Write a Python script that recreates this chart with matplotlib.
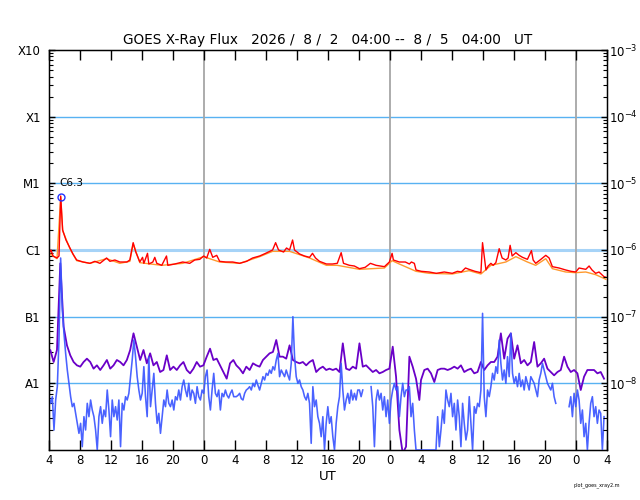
import numpy as np
import matplotlib
matplotlib.use("Agg")
import matplotlib.pyplot as plt
from matplotlib.ticker import LogLocator, NullFormatter

# ---------------- data ----------------
title_text = "GOES X-Ray Flux   2026 /  8 /  2   04:00 --  8 /  5   04:00   UT"
hour_ticks = list(range(0, 73, 4))          # hours since 2026-08-02 04:00 UT
hour_labels = ["4", "8", "12", "16", "20", "0", "4", "8", "12", "16", "20",
               "0", "4", "8", "12", "16", "20", "0", "4"]
day_boundaries = [20, 44, 68]
class_levels = [1e-8, 1e-7, 1e-6, 1e-5, 1e-4, 1e-3]
class_labels = ["A1", "B1", "C1", "M1", "X1", "X10"]
right_levels = [1e-3, 1e-4, 1e-5, 1e-6, 1e-7, 1e-8]
right_labels = [r"$10^{-3}$", r"$10^{-4}$", r"$10^{-5}$", r"$10^{-6}$",
                r"$10^{-7}$", r"$10^{-8}$"]
flare_time = 1.51
flare_label = "C6.3"
flare_log = -5.20

# long channel (0.1-0.8 nm), primary: (hour, log10 flux)
long_primary = [
    (0.00, -6.05), (0.26, -6.00), (0.52, -6.09), (1.03, -6.12), (1.29, -6.09),
    (1.51, -5.19), (1.76, -5.70), (2.19, -5.85), (2.70, -5.97), (3.09, -6.06),
    (3.57, -6.15), (4.38, -6.18), (5.28, -6.20), (5.92, -6.17), (6.57, -6.20),
    (7.43, -6.12), (7.86, -6.17), (8.50, -6.15), (9.14, -6.18), (10.05, -6.18),
    (10.43, -6.15), (10.86, -5.89), (11.20, -6.03), (11.72, -6.18), (12.07, -6.11),
    (12.24, -6.20), (12.71, -6.05), (12.88, -6.21), (13.40, -6.18), (13.65, -6.11),
    (13.91, -6.20), (14.55, -6.23), (15.16, -6.09), (15.33, -6.23), (16.23, -6.21),
    (17.26, -6.18), (18.16, -6.20), (18.80, -6.15), (19.45, -6.14), (19.96, -6.09),
    (20.35, -6.12), (20.74, -5.99), (21.13, -6.11), (21.64, -6.08), (22.02, -6.17),
    (22.80, -6.18), (23.70, -6.18), (24.60, -6.20), (25.50, -6.17), (26.27, -6.12),
    (27.18, -6.09), (27.95, -6.05), (28.85, -6.00), (29.24, -5.89), (29.62, -6.00),
    (30.27, -6.03), (30.65, -5.97), (31.04, -6.00), (31.30, -5.90), (31.43, -5.85),
    (31.68, -6.00), (32.33, -6.06), (32.97, -6.09), (33.62, -6.11), (34.00, -6.05),
    (34.39, -6.12), (34.90, -6.17), (35.80, -6.21), (36.58, -6.21), (37.20, -6.20),
    (37.70, -6.04), (38.00, -6.20), (38.77, -6.23), (39.40, -6.24), (40.06, -6.28),
    (40.80, -6.26), (41.47, -6.20), (42.20, -6.23), (42.76, -6.24), (43.28, -6.25),
    (43.92, -6.18), (44.27, -6.05), (44.44, -6.15), (45.20, -6.18), (45.98, -6.18),
    (46.50, -6.21), (46.76, -6.18), (47.14, -6.20), (47.36, -6.30), (48.04, -6.32),
    (49.07, -6.33), (49.97, -6.35), (51.00, -6.33), (52.03, -6.35), (52.70, -6.32),
    (53.20, -6.33), (53.74, -6.27), (54.20, -6.29), (54.97, -6.32), (55.73, -6.34),
    (55.94, -5.89), (56.38, -6.30), (56.67, -6.24), (57.02, -6.20), (57.31, -6.23),
    (57.66, -6.19), (58.09, -5.98), (58.47, -6.12), (58.95, -6.15), (59.24, -6.12),
    (59.50, -5.93), (59.76, -6.09), (60.24, -6.04), (60.66, -6.08), (61.10, -6.11),
    (61.73, -6.14), (62.25, -6.01), (62.47, -6.15), (62.80, -6.20), (63.36, -6.15),
    (64.10, -6.08), (64.53, -6.12), (64.95, -6.25), (65.81, -6.27), (66.68, -6.30),
    (67.37, -6.32), (67.97, -6.33), (68.39, -6.27), (69.26, -6.29), (69.69, -6.24),
    (70.07, -6.30), (70.54, -6.35), (70.97, -6.33), (71.61, -6.40), (71.87, -6.41),
]

# long channel, secondary
long_secondary = [
    (0.00, -6.05), (1.03, -6.13), (1.51, -5.21), (1.76, -5.71), (2.70, -5.98),
    (3.57, -6.16), (5.28, -6.20), (7.43, -6.13), (9.14, -6.20), (10.43, -6.17),
    (10.86, -5.91), (11.72, -6.19), (14.55, -6.23), (17.26, -6.20), (19.96, -6.10),
    (22.02, -6.18), (24.60, -6.20), (27.18, -6.10), (28.85, -6.02), (31.04, -6.02),
    (33.62, -6.12), (35.80, -6.23), (37.20, -6.23), (40.06, -6.29), (43.28, -6.27),
    (44.27, -6.16), (45.20, -6.21), (47.36, -6.32), (49.07, -6.35), (52.03, -6.36),
    (54.20, -6.31), (55.73, -6.36), (57.02, -6.23), (58.95, -6.18), (60.24, -6.10),
    (61.73, -6.18), (62.80, -6.23), (64.10, -6.13), (64.95, -6.28), (66.68, -6.33),
    (67.97, -6.34), (69.26, -6.33), (70.54, -6.37), (71.87, -6.44),
]

# short channel (0.05-0.4 nm), primary: log10 flux, regular samples per day segment
short_step_h = 0.2147
short_seg_start_h = [0.0, 24.17, 48.0]
nan = float("nan")
short_primary_seg = [
    [-8.20, -8.30, -8.20, -8.70, -8.25, -8.05, -7.35, -6.12, -6.90, -7.25,
     -7.55, -7.80, -8.00, -8.20, -8.35, -8.30, -8.45, -8.60, -8.75, -8.60,
     -8.95, -8.50, -8.70, -8.30, -8.50, -8.25, -8.40, -8.50, -8.70, -9.00,
     -8.50, -8.35, -8.60, -8.40, -8.50, -8.10, -8.40, -8.80, -8.25, -8.50,
     -8.35, -8.55, -8.25, -8.95, -8.30, -8.40, -8.20, -8.25, -8.15, -7.90,
     -7.65, -7.35, -7.60, -7.90, -8.10, -8.25, -8.15, -7.75, -8.20, -8.50,
     -7.60, -8.35, -8.10, -7.85, -8.30, -8.60, -8.45, -8.75, -8.50, -8.25,
     -8.35, -8.10, -8.30, -8.35, -8.25, -8.40, -8.20, -8.25, -8.10, -8.25,
     -8.05, -7.95, -8.10, -8.20, -8.00, -8.25, -8.10, -8.15, -8.30, -8.05,
     -8.20, -8.25, -8.10, -8.15, -7.90, -7.80, -8.20, -8.40, -8.10, -7.85,
     -8.15, -8.20, -8.10, -8.40, -8.15, -8.20, -8.10, -8.18, -8.22, -8.15,
     -8.10, -8.20],
    [-8.20, -8.18, -8.15, -8.23, -8.25, -8.15, -8.10, -8.08, -8.05, -8.10,
     -8.00, -8.05, -7.95, -8.03, -8.10, -8.00, -7.90, -7.95, -7.85, -7.88,
     -7.80, -7.85, -7.75, -7.80, -7.65, -7.55, -7.90, -7.80, -7.85, -7.90,
     -7.80, -7.88, -7.95, -7.70, -7.00, -7.60, -7.90, -8.00, -7.95, -8.05,
     -8.10, -8.20, -8.25, -8.15, -8.30, -8.90, -8.05, -8.35, -8.25, -8.50,
     -8.60, -8.80, -8.50, -9.00, -8.60, -8.35, -8.60, -8.50, -8.80, -9.00,
     -8.60, -8.35, -8.20, -7.70, -8.10, -8.40, -8.25, -8.15, -8.30, -8.10,
     -8.25, -8.15, -8.25, -8.10, -8.10, -8.20, -8.10, nan, nan, nan,
     nan, -8.05, -8.35, -8.95, -8.25, -8.10, -8.25, -8.15, -8.40, -8.20,
     -8.50, -8.25, -8.60, -8.25, -8.10, -8.00, -8.10, -8.05, -8.50, -8.20,
     -8.00, -8.20, -8.10, -8.10, -8.05, -8.50, -8.30, -8.70, -9.00, -9.00,
     -9.00],
    [-9.00, -9.00, -9.00, -9.00, -9.00, -9.00, -9.00, -9.00, -9.00, -9.00,
     -8.50, -8.95, -8.70, -8.40, -8.60, -8.10, -8.25, -8.35, -8.15, -8.50,
     -8.30, -8.70, -8.25, -8.50, -8.95, -8.30, -8.60, -8.85, -8.70, -8.20,
     -8.60, -9.00, -8.35, -8.45, -8.30, -8.35, -8.10, -6.95, -8.20, -8.50,
     -8.10, -8.20, -8.05, -7.85, -7.95, -7.75, -7.85, -7.35, -7.70, -7.95,
     -7.80, -8.00, -7.60, -7.90, -7.25, -7.85, -8.00, -7.90, -8.05, -7.85,
     -8.05, -7.95, -8.10, -7.90, -8.00, -8.10, -7.90, -7.95, -8.00, -8.10,
     -8.20, -7.95, -7.85, -7.70, -7.80, -7.90, -8.00, -8.05, -8.10, -8.00,
     -8.20, -8.30, nan, nan, nan, nan, nan, nan, nan, -8.35,
     -8.20, -8.50, -8.15, -8.35, -8.10, -8.25, -8.60, -8.40, -8.80, -8.60,
     -9.00, -8.60, -8.30, -8.20, -8.50, -8.35, -8.60, -8.40, -8.45, -9.00,
     -8.50],
]

# short channel, secondary
short2_step_h = 0.4294
short2_seg_start_h = [-0.26, 24.17, 48.0]
short_secondary_seg = [
    [-7.60, -7.50, -7.68, -7.50, -6.20, -7.15, -7.43, -7.58, -7.68, -7.73,
     -7.75, -7.68, -7.63, -7.68, -7.78, -7.73, -7.80, -7.73, -7.65, -7.78,
     -7.73, -7.65, -7.68, -7.73, -7.65, -7.50, -7.25, -7.45, -7.65, -7.50,
     -7.70, -7.55, -7.73, -7.68, -7.83, -7.80, -7.58, -7.80, -7.75, -7.80,
     -7.73, -7.68, -7.80, -7.85, -7.78, -7.68, -7.75, -7.73, -7.60, -7.48,
     -7.65, -7.63, -7.73, -7.83, -7.93, -7.70, -7.65],
    [-7.73, -7.78, -7.85, -7.75, -7.80, -7.70, -7.73, -7.75, -7.65, -7.60,
     -7.55, -7.53, -7.35, -7.60, -7.60, -7.63, -7.43, -7.65, -7.68, -7.70,
     -7.68, -7.73, -7.68, -7.65, -7.83, -7.78, -7.75, -7.80, -7.78, -7.80,
     -7.78, -7.83, -7.40, -7.78, -7.80, -7.75, -7.78, -7.40, -7.75, -7.73,
     -7.78, -7.83, -7.80, -7.85, -7.83, -7.80, -7.78, -7.45, -7.90, -8.70,
     -9.05, -8.95, -7.60, -7.75, -7.93, -8.25],
    [-7.95, -7.80, -7.78, -7.85, -7.98, -7.80, -7.78, -7.78, -7.80, -7.78,
     -7.75, -7.78, -7.73, -7.83, -7.80, -7.78, -7.85, -7.83, -7.68, -7.80,
     -7.73, -7.68, -7.68, -7.60, -7.25, -7.63, -7.33, -7.25, -7.63, -7.43,
     -7.70, -7.65, -7.73, -7.68, -7.38, -7.75, -7.70, -7.63, -7.78, -7.83,
     -7.88, -7.83, -7.80, -7.60, -7.75, -7.83, -7.80, -7.85, -8.10, -7.90,
     -7.80, -7.80, -7.80, -7.85, -7.83, -7.93],
]


def seg_series(starts, step, segs):
    t = np.concatenate([s + step * np.arange(len(v)) for s, v in zip(starts, segs)])
    v = np.concatenate([np.array(v, dtype=float) for v in segs])
    return t, 10.0 ** v


# ---------------- figure ----------------
fig = plt.figure(figsize=(6.4, 5.0), dpi=100)
ax = fig.add_axes([49 / 640, 50 / 500, 558 / 640, 400 / 500])
ax.set_yscale("log")
ax.set_xlim(0, 72)
ax.set_ylim(1e-9, 1e-3)

# grid
for lev in class_levels[:-1]:
    if lev == 1e-6:
        ax.axhline(lev, color="#a6d3f7", lw=2.2, zorder=1)
    else:
        ax.axhline(lev, color="#58b2f2", lw=1.0, zorder=1)
for d in day_boundaries:
    ax.axvline(d, color="#a6a6a6", lw=1.3, zorder=1)

# long channel
t2, v2 = zip(*long_secondary)
ax.plot(t2, 10.0 ** np.array(v2), color="#ff9a2e", lw=1.0, zorder=3)
t1, v1 = zip(*long_primary)
ax.plot(t1, 10.0 ** np.array(v1), color="#ff0000", lw=1.0, zorder=4)

# short channel
ts2, vs2 = seg_series(short2_seg_start_h, short2_step_h, short_secondary_seg)
ax.plot(ts2, vs2, color="#6a00c8", lw=1.3, zorder=3)
ts1, vs1 = seg_series(short_seg_start_h, short_step_h, short_primary_seg)
ax.plot(ts1, vs1, color="#3a55ff", lw=1.15, alpha=0.92, zorder=3.5)

# flare marker
ax.plot([flare_time], [10.0 ** flare_log], marker="o", ms=5, mfc="none",
        mec="#2233ff", mew=1.0, zorder=6)
ax.annotate(flare_label, (flare_time, 10.0 ** flare_log), xytext=(-1, 6),
            textcoords="offset points", ha="left", va="bottom", fontsize=7.5)

# axes / ticks
ax.set_xticks(hour_ticks)
ax.set_xticklabels(hour_labels, fontsize=8.5)
ax.tick_params(axis="x", which="major", direction="in", length=7.5, width=1,
               top=True, bottom=True, pad=3)
ax.set_yticks(class_levels)
ax.set_yticklabels(class_labels, fontsize=8.5)
ax.yaxis.set_minor_locator(LogLocator(base=10, subs=np.arange(2, 10), numticks=20))
ax.yaxis.set_minor_formatter(NullFormatter())
ax.tick_params(axis="y", which="major", direction="in", length=4, width=1, pad=6,
               left=True, right=False)
ax.tick_params(axis="y", which="minor", direction="in", length=3, width=0.8,
               left=True, right=False)
for s in ax.spines.values():
    s.set_linewidth(1.0)

axr = ax.twinx()
axr.set_yscale("log")
axr.set_ylim(1e-9, 1e-3)
axr.set_yticks(right_levels)
axr.set_yticklabels(right_labels, fontsize=8.5)
axr.yaxis.set_minor_locator(LogLocator(base=10, subs=np.arange(2, 10), numticks=20))
axr.yaxis.set_minor_formatter(NullFormatter())
axr.tick_params(axis="y", which="major", direction="in", length=4, width=1, pad=1.5)
axr.tick_params(axis="y", which="minor", direction="in", length=3, width=0.8)

ax.set_xlabel("UT", fontsize=9.5, labelpad=2)
ax.set_title(title_text, fontsize=9.8, pad=4)
fig.text(597 / 640, 1 - 485 / 500, "plot_goes_xray2.m", fontsize=3.5,
         ha="center", va="center")

fig.savefig("out.png", dpi=100)
